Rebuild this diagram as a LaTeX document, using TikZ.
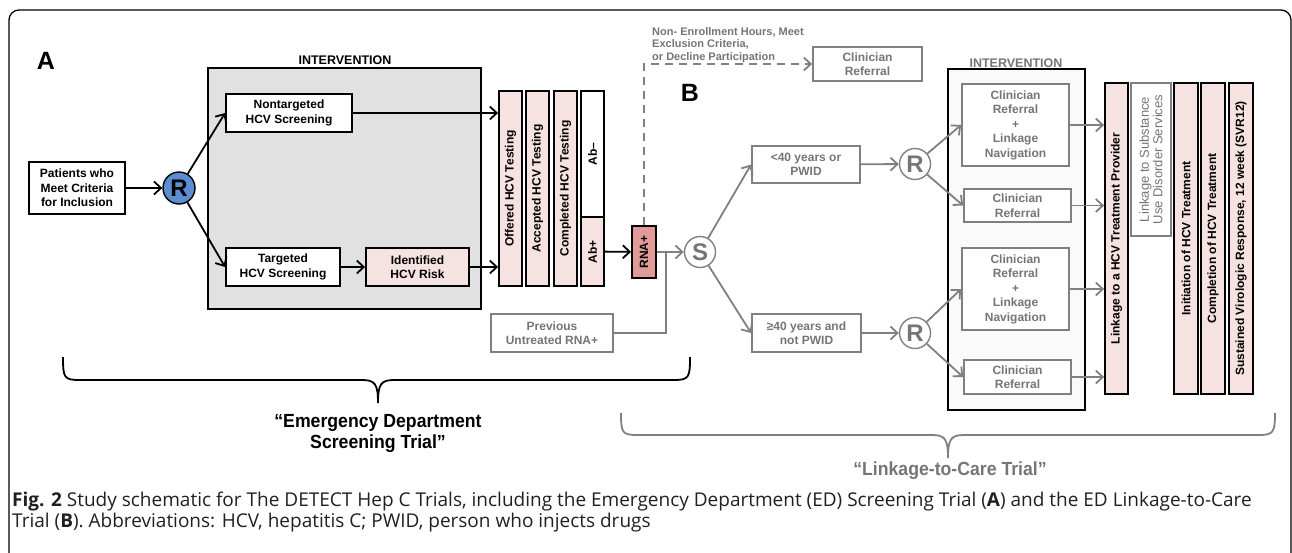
\documentclass[tikz,border=0pt]{standalone}
\usepackage{fontspec}
\setmainfont{Liberation Sans}
\newfontfamily\capfont{Open Sans}
\newfontfamily\narrowfont[FakeStretch=0.93]{Liberation Sans}
\usetikzlibrary{arrows.meta}

\definecolor{panelgray}{HTML}{E1E1E1}
\definecolor{pinkfill}{HTML}{F7E2E2}
\definecolor{rnafill}{HTML}{E19A9A}
\definecolor{bluefill}{HTML}{5B8DD0}
\definecolor{linegray}{HTML}{808080}
\definecolor{textgray}{HTML}{757575}
\definecolor{captext}{HTML}{231F20}

\newcommand\boxfont{\fontsize{12}{14.5}\selectfont\bfseries}

\tikzset{
  blkbox/.style={draw=black, line width=1.8pt, fill=white, align=center, inner sep=1pt, font=\boxfont},
  grybox/.style={draw=linegray, line width=1.8pt, fill=white, text=textgray, align=center, inner sep=1pt, font=\boxfont},
  barbox/.style={draw=black, line width=1.8pt, fill=pinkfill, rotate=90, inner sep=0pt, font=\boxfont},
  rcirc/.style={circle, draw=black, line width=1.4pt, fill=bluefill, minimum size=32pt, inner sep=0pt, font=\fontsize{24}{24}\selectfont\bfseries},
  gcirc/.style={circle, draw=linegray, line width=1.4pt, fill=white, text=textgray, minimum size=31pt, inner sep=0pt, font=\fontsize{24}{24}\selectfont\bfseries},
  panellab/.style={font=\fontsize{25}{25}\selectfont\bfseries},
  arr/.style={-{Straight Barb[length=7pt,width=13pt]}, line width=1.8pt},
  garr/.style={arr, draw=linegray},
}

\begin{document}
\begin{tikzpicture}[x=1pt, y=-1pt]
\useasboundingbox (0,0) rectangle (1292,552);
\draw[line width=1.3pt, rounded corners=10] (9,10) rectangle (1291,575);

% A: screening trial
\node[panellab] (labA) at (46,61) {A};
\node[font=\fontsize{12.5}{14}\selectfont\bfseries] (intA) at (345,60) {INTERVENTION};
\node[draw=black, line width=1.6pt, fill=panelgray, minimum width=273, minimum height=241] (panelA) at (344.5,188.5) {};

\node[blkbox, minimum width=96, minimum height=52] (patients) at (77,188) {Patients who\\Meet Criteria\\for Inclusion};
\node[rcirc] (ra) at (179,188) {R};
\node[blkbox, minimum width=126, minimum height=38] (nontarg) at (289,113) {Nontargeted\\HCV Screening};
\node[blkbox, minimum width=114, minimum height=38] (targ) at (283,267) {Targeted\\HCV Screening};
\node[blkbox, fill=pinkfill, minimum width=103, minimum height=38] (risk) at (417.5,267) {Identified\\HCV Risk};

\node[barbox, minimum width=195, minimum height=23] (offered) at (510.5,188.5) {Offered HCV Testing};
\node[barbox, minimum width=195, minimum height=23] (accepted) at (537.5,188.5) {Accepted HCV Testing};
\node[barbox, minimum width=195, minimum height=23] (completed) at (565.5,188.5) {Completed HCV Testing};
\node[barbox, fill=white, minimum width=126, minimum height=23] (abminus) at (592.5,154) {Ab–};
\node[barbox, minimum width=69, minimum height=23] (abplus) at (592.5,251.5) {Ab+};
\node[barbox, fill=rnafill, minimum width=52, minimum height=24] (rna) at (644,252) {RNA+};

\draw[arr] (patients) -- (ra);
\draw[arr] (ra) -- (nontarg.west);
\draw[arr] (ra) -- (targ.west);
\draw[arr] (targ) -- (risk);
\draw[arr] (nontarg.east) -- (nontarg.east -| offered.north);
\draw[arr] (risk.east) -- (risk.east -| offered.north);
\draw[arr] (abplus) -- (rna);

% B: linkage-to-care trial
\node[panellab] (labB) at (690,93) {B};
\node[anchor=north west, align=left, inner sep=0pt, text=textgray, font=\fontsize{11}{12.5}\selectfont\bfseries] (excl) at (652,27) {Non- Enrollment Hours, Meet\\Exclusion Criteria,\\or Decline Participation};
\node[grybox, minimum width=109, minimum height=34] (topref) at (867.5,64) {Clinician\\Referral};
\draw[garr, dash pattern=on 8pt off 6pt] (rna) |- (topref);

\node[grybox, minimum width=122, minimum height=38] (prev) at (552,333) {Previous\\Untreated RNA+};
\node[gcirc] (s) at (700,252) {S};
\coordinate (join) at (666,252);
\draw[garr] (rna) -- (s);
\draw[line width=1.8pt, linegray] (prev.east) -| (join);

\node[grybox, minimum width=108, minimum height=37] (lt40) at (806,164.5) {<40 years or\\PWID};
\node[grybox, minimum width=109, minimum height=38] (ge40) at (806.5,333) {≥40 years and\\not PWID};
\draw[garr] (s) -- (lt40.west);
\draw[garr] (s) -- (ge40.west);

\node[gcirc] (r1) at (915,164) {R};
\node[gcirc] (r2) at (915,333) {R};
\draw[garr] (lt40) -- (r1);
\draw[garr] (ge40) -- (r2);

\node[text=textgray, font=\fontsize{12.5}{14}\selectfont\bfseries] (intB) at (1016,63) {INTERVENTION};
\node[draw=black, line width=1.3pt, fill=white!98!black, minimum width=137, minimum height=341] (panelB) at (1016.5,239.5) {};
\node[grybox, minimum width=107, minimum height=82] (crln1) at (1015.5,125) {Clinician\\Referral\\+\\Linkage\\Navigation};
\node[grybox, minimum width=107, minimum height=33] (cr1) at (1017.5,205.5) {Clinician\\Referral};
\node[grybox, minimum width=107, minimum height=82] (crln2) at (1015.5,289) {Clinician\\Referral\\+\\Linkage\\Navigation};
\node[grybox, minimum width=107, minimum height=34] (cr2) at (1017.5,377) {Clinician\\Referral};
\draw[garr] (r1) -- (crln1.west);
\draw[garr] (r1) -- (cr1.west);
\draw[garr] (r2) -- (crln2.west);
\draw[garr] (r2) -- (cr2.west);

\node[barbox, minimum width=311, minimum height=23] (link) at (1116.5,238.5) {Linkage to a HCV Treatment Provider};
\node[barbox, draw=linegray, fill=white, text=textgray, align=center, font=\fontsize{13}{13.5}\selectfont, minimum width=153, minimum height=40] (subst) at (1151,159.5) {Linkage to Substance\\Use Disorder Services};
\node[barbox, minimum width=311, minimum height=24] (init) at (1186,238.5) {Initiation of HCV Treatment};
\node[barbox, minimum width=311, minimum height=24] (compl) at (1213,238.5) {Completion of HCV Treatment};
\node[barbox, minimum width=311, minimum height=24] (svr) at (1241,238.5) {Sustained Virologic Response, 12 week (SVR12)};

\draw[garr] (crln1.east) -- (crln1.east -| link.north);
\draw[garr] (cr1.east) -- (cr1.east -| link.north);
\draw[garr] (crln2.east) -- (crln2.east -| link.north);
\draw[garr] (cr2.east) -- (cr2.east -| link.north);

% braces
\draw[line width=1.8pt] (63,357) .. controls (63,378) and (64,380) .. (80,380) -- (362,380) .. controls (375,380) and (378,384) .. (378,403) .. controls (378,384) and (381,380) .. (394,380) -- (673,380) .. controls (689,380) and (690,378) .. (690,357);
\node[align=center, font=\narrowfont\fontsize{19}{21}\selectfont\bfseries] (edlab) at (378,433) {“Emergency Department\\Screening Trial”};

\draw[line width=1.8pt, linegray] (621,413) .. controls (621,433) and (622,435) .. (638,435) -- (932,435) .. controls (945,435) and (948,439) .. (948,458) .. controls (948,439) and (951,435) .. (964,435) -- (1258,435) .. controls (1273,435) and (1275,433) .. (1275,413);
\node[text=textgray, font=\narrowfont\fontsize{19}{21}\selectfont\bfseries] (ltclab) at (950,471) {“Linkage-to-Care Trial”};

\node[anchor=north west, align=left, inner sep=0pt, text=captext, font=\capfont\fontsize{19}{20.5}\selectfont] (caption) at (12,492) {\textbf{Fig. 2} Study schematic for The DETECT Hep C Trials, including the Emergency Department (ED) Screening Trial (\textbf{A}) and the ED Linkage-to-Care\\Trial (\textbf{B}). Abbreviations: HCV, hepatitis C; PWID, person who injects drugs};
\end{tikzpicture}
\end{document}
